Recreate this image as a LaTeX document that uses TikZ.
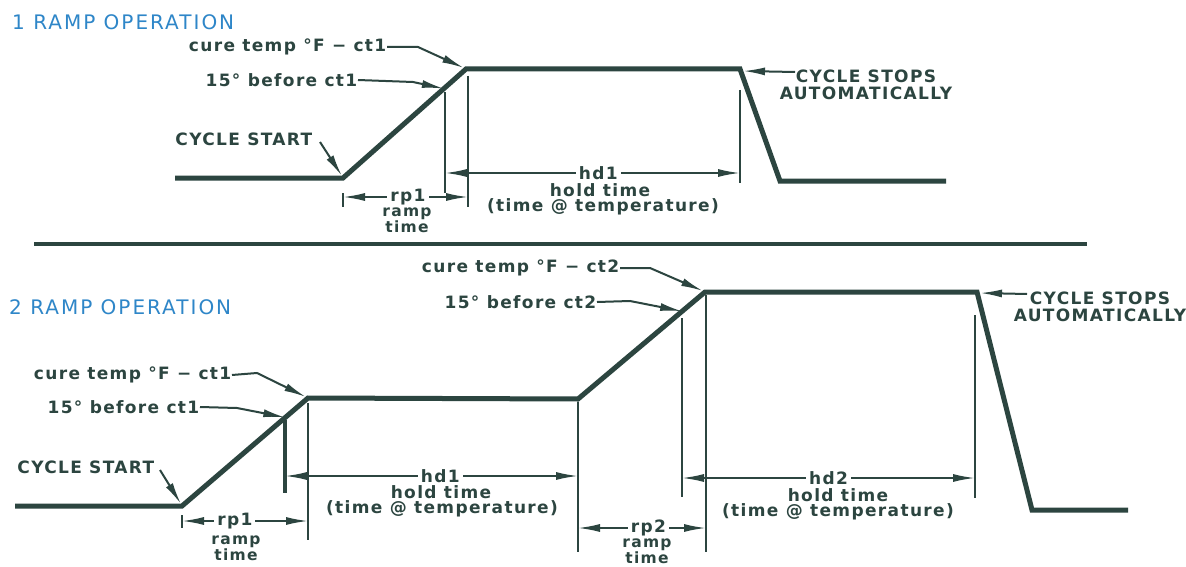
\documentclass[tikz,border=0pt]{standalone}
\usepackage{fontspec}
\usetikzlibrary{arrows.meta,calc}
\newfontfamily\labfont{DejaVu Sans}[LetterSpace=8]
\newfontfamily\titlefont{DejaVu Sans}[LetterSpace=10]
\definecolor{ink}{HTML}{2C4540}
\definecolor{ttl}{HTML}{2E86C8}
\begin{document}
\begin{tikzpicture}[x=1pt,y=-1pt,
  curve/.style={ink,line width=5pt,line join=miter},
  ext/.style={ink,line width=2pt},
  extthick/.style={ink,line width=3.5pt},
  leader/.style={ink,line width=2pt,-{Latex[length=22pt,width=8pt]}},
  dim/.style={ink,line width=1.8pt,{Latex[length=22pt,width=8pt]}-{Latex[length=22pt,width=8pt]}},
  lbl/.style={font=\labfont\bfseries\fontsize{17}{17}\selectfont,text=ink,inner sep=0.5pt},
  stack/.style={lbl,align=center,font=\labfont\bfseries\fontsize{15.5}{11.5}\selectfont,anchor=north,inner sep=0pt},
  dlbl/.style={lbl,fill=white,inner xsep=3pt,inner ysep=0pt},
  ttlnode/.style={font=\titlefont\fontsize{20}{22}\selectfont,text=ttl,inner sep=0pt,anchor=west}
]
\useasboundingbox (0,0) rectangle (1186,567);
\fill[white] (0,0) rectangle (1186,567);

% ---------- titles ----------
\node[ttlnode] (t1) at (12,22) {1 RAMP OPERATION};
\node[ttlnode] (t2) at (9,307) {2 RAMP OPERATION};

% ---------- separator ----------
\coordinate (s1) at (34,244);
\coordinate (s2) at (1087,244);
\draw[ink,line width=4pt] (s1) -- (s2);

% =========== 1 RAMP ===========
\coordinate (A0) at (175,178);
\coordinate (A1) at (343,178);
\coordinate (A2) at (466,69);
\coordinate (A3) at (740,69);
\coordinate (A4) at (780,181);
\coordinate (A5) at (946,181);
\coordinate (Af) at ($(A1)!0.82!(A2)$);
\draw[curve] (A0) -- (A1) -- (A2) -- (A3) -- (A4) -- (A5);

% extension lines
\coordinate (e1a) at (445,92);  \coordinate (e1b) at (445,193);
\coordinate (e2a) at (468,76);  \coordinate (e2b) at (468,207);
\coordinate (e3a) at (740,90);  \coordinate (e3b) at (740,183);
\coordinate (e4a) at (343,193); \coordinate (e4b) at (343,207);
\draw[ext] (e1a) -- (e1b);
\draw[ext] (e2a) -- (e2b);
\draw[ext] (e3a) -- (e3b);
\draw[ext] (e4a) -- (e4b);

% dimensions
\coordinate (r1a) at (343,197); \coordinate (r1b) at (468,197);
\draw[dim] (r1a) -- node[dlbl,pos=0.52] (rp1) {rp1} (r1b);
\node[stack] (rp1r) at (407,208) {ramp\\time};

\coordinate (h1a) at (445,173); \coordinate (h1b) at (740,173);
\draw[dim] (h1a) -- node[dlbl,pos=0.52] (hd1) {hd1} (h1b);
\node[lbl] (hd1h) at (600,190) {hold time};
\node[lbl] (hd1t) at (603,207) {(time @ temperature)};

% labels
\node[lbl,anchor=east] (c1) at (387,47) {cure temp °F − ct1};
\coordinate (c1k) at (418,47);
\draw[leader] (c1.east) -- (c1k) -- ($(A2)+(-2,-1)$);

\node[lbl,anchor=east] (f1) at (358,80) {15° before ct1};
\coordinate (f1k) at (413,82);
\draw[leader] (f1.east) -- (f1k) -- (Af);

\node[lbl,anchor=east] (cs1) at (313,139) {CYCLE START};
\coordinate (cs1k) at (320,142);
\draw[leader] (cs1k) -- ($(A1)+(-1,-2)$);

\node[lbl,align=center] (st1) at (866,85) {CYCLE STOPS\\AUTOMATICALLY};
\coordinate (st1k) at (795,72);
\draw[leader] (st1k) -- ($(A3)+(3,2)$);

% =========== 2 RAMP ===========
\coordinate (B0) at (15,506);
\coordinate (B1) at (182,506);
\coordinate (B2) at (308,398);
\coordinate (B3) at (578,399);
\coordinate (B4) at (705,292);
\coordinate (B5) at (977,292);
\coordinate (B6) at (1032,510);
\coordinate (B7) at (1128,510);
\coordinate (Bf1) at ($(B1)!0.82!(B2)$);
\coordinate (Bf2) at ($(B3)!0.82!(B4)$);
\draw[curve] (B0) -- (B1) -- (B2) -- (B3) -- (B4) -- (B5) -- (B6) -- (B7);

% extension lines
\coordinate (g1a) at (285,420); \coordinate (g1b) at (285,493);
\coordinate (g2a) at (308,403); \coordinate (g2b) at (308,540);
\coordinate (g3a) at (182,515); \coordinate (g3b) at (182,528);
\coordinate (g4a) at (578,402); \coordinate (g4b) at (578,552);
\coordinate (g5a) at (682,318); \coordinate (g5b) at (682,497);
\coordinate (g6a) at (706,295); \coordinate (g6b) at (706,552);
\coordinate (g7a) at (975,315); \coordinate (g7b) at (975,498);
\draw[extthick] (g1a) -- (g1b);
\draw[ext] (g2a) -- (g2b);
\draw[ext] (g3a) -- (g3b);
\draw[ext] (g4a) -- (g4b);
\draw[ext] (g5a) -- (g5b);
\draw[ext] (g6a) -- (g6b);
\draw[ext] (g7a) -- (g7b);

% dimensions
\coordinate (q1a) at (285,476); \coordinate (q1b) at (578,476);
\draw[dim] (q1a) -- node[dlbl,pos=0.53] (bhd1) {hd1} (q1b);
\node[lbl] (bhd1h) at (441,492) {hold time};
\node[lbl] (bhd1t) at (442,509) {(time @ temperature)};

\coordinate (q2a) at (182,521); \coordinate (q2b) at (308,521);
\draw[dim] (q2a) -- node[dlbl,pos=0.42] (brp1) {rp1} (q2b);
\node[stack] (brp1r) at (236,536) {ramp\\time};

\coordinate (q3a) at (578,528); \coordinate (q3b) at (706,528);
\draw[dim] (q3a) -- node[dlbl,pos=0.55] (brp2) {rp2} (q3b);
\node[stack] (brp2r) at (647,539) {ramp\\time};

\coordinate (q4a) at (682,478); \coordinate (q4b) at (975,478);
\draw[dim] (q4a) -- node[dlbl,pos=0.5] (bhd2) {hd2} (q4b);
\node[lbl] (bhd2h) at (838,495) {hold time};
\node[lbl] (bhd2t) at (838,512) {(time @ temperature)};

% labels
\node[lbl,anchor=east] (bc1) at (232,375) {cure temp °F − ct1};
\coordinate (bc1k) at (257,373);
\draw[leader] (bc1.east) -- (bc1k) -- ($(B2)+(-2,-1)$);

\node[lbl,anchor=east] (bf1) at (200,407) {15° before ct1};
\coordinate (bf1k) at (237,408);
\draw[leader] (bf1.east) -- (bf1k) -- (Bf1);

\node[lbl,anchor=east] (bcs) at (155,467) {CYCLE START};
\coordinate (bcsk) at (160,470);
\draw[leader] (bcsk) -- ($(B1)+(-1,-2)$);

\node[lbl,anchor=east] (bc2) at (620,268) {cure temp °F − ct2};
\coordinate (bc2k) at (650,268);
\draw[leader] (bc2.east) -- (bc2k) -- ($(B4)+(-2,-1)$);

\node[lbl,anchor=east] (bf2) at (597,302) {15° before ct2};
\coordinate (bf2k) at (630,301);
\draw[leader] (bf2.east) -- (bf2k) -- (Bf2);

\node[lbl,align=center] (bst) at (1100,307) {CYCLE STOPS\\AUTOMATICALLY};
\coordinate (bstk) at (1027,294);
\draw[leader] (bstk) -- ($(B5)+(3,1)$);
\end{tikzpicture}
\end{document}
